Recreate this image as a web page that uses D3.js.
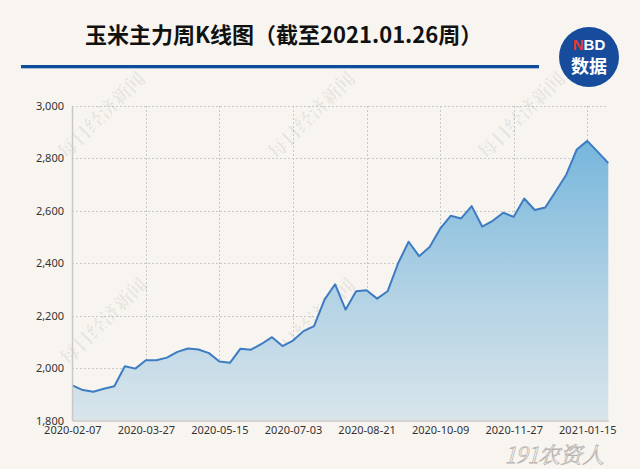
<!DOCTYPE html>
<html><head><meta charset="utf-8">
<script src="https://cdn.jsdelivr.net/npm/d3@7"></script>
<style>
html,body{margin:0;padding:0;background:#f8f5f1;}
svg{display:block;}
</style></head>
<body>
<svg id="chart" width="640" height="469"></svg>
<script>
const titleText = "玉米主力周K线图（截至2021.01.26周）";
const dates = [
"2020-02-07","2020-02-14","2020-02-21","2020-02-28","2020-03-06","2020-03-13","2020-03-20",
"2020-03-27","2020-04-03","2020-04-10","2020-04-17","2020-04-24","2020-05-01","2020-05-08",
"2020-05-15","2020-05-22","2020-05-29","2020-06-05","2020-06-12","2020-06-19","2020-06-26",
"2020-07-03","2020-07-10","2020-07-17","2020-07-24","2020-07-31","2020-08-07","2020-08-14",
"2020-08-21","2020-08-28","2020-09-04","2020-09-11","2020-09-18","2020-09-25","2020-10-02",
"2020-10-09","2020-10-16","2020-10-23","2020-10-30","2020-11-06","2020-11-13","2020-11-20",
"2020-11-27","2020-12-04","2020-12-11","2020-12-18","2020-12-25","2021-01-01","2021-01-08",
"2021-01-15","2021-01-22","2021-01-29"];
const prices = [
1934,1916,1910,1921,1931,2007,1998,
2030,2030,2040,2062,2075,2071,2057,
2025,2020,2074,2070,2092,2118,2084,
2105,2141,2160,2261,2320,2223,2293,
2297,2265,2293,2400,2482,2427,2462,
2532,2581,2571,2618,2540,2562,2593,
2577,2647,2603,2613,2675,2738,2834,
2867,2825,2782];
const xTickLabels = ["2020-02-07","2020-03-27","2020-05-15","2020-07-03","2020-08-21","2020-10-09","2020-11-27","2021-01-15"];
const yTicks = [1800,2000,2200,2400,2600,2800,3000];
const watermarkText = "每日经济新闻";

const svg = d3.select("#chart");
const W = 640, H = 469;
svg.append("rect").attr("width",W).attr("height",H).attr("fill","#f8f5f1");

const x = d3.scalePoint().domain(dates).range([72.3, 608.3]);
const y = d3.scaleLinear().domain([1800,3000]).range([420.5,106]);

// gradient
const defs = svg.append("defs");
const grad = defs.append("linearGradient").attr("id","areaGrad")
  .attr("gradientUnits","userSpaceOnUse").attr("x1",0).attr("y1",y(2870)).attr("x2",0).attr("y2",y(1800));
grad.append("stop").attr("offset","0%").attr("stop-color","#76b6dc");
grad.append("stop").attr("offset","55%").attr("stop-color","#b2d2e4");
grad.append("stop").attr("offset","100%").attr("stop-color","#d9e5eb");

// grid
const grid = svg.append("g");
grid.selectAll("line.h").data(yTicks.filter(d=>d>1800)).join("line")
  .attr("x1",72).attr("x2",608.3).attr("y1",d=>Math.round(y(d))+0.5).attr("y2",d=>Math.round(y(d))+0.5)
  .attr("stroke","#c9c9c9").attr("stroke-width",1).attr("stroke-dasharray","2,2");
grid.selectAll("line.v").data(xTickLabels.slice(1)).join("line")
  .attr("x1",d=>Math.round(x(d))+0.5).attr("x2",d=>Math.round(x(d))+0.5).attr("y1",y(3000)).attr("y2",y(1800))
  .attr("stroke","#c9c9c9").attr("stroke-width",1).attr("stroke-dasharray","2,2");

// watermarks
const wmPos = [[100,114],[310,114],[520,114],[102,320],[310,320],[522,320]];
svg.append("g").selectAll("text").data(wmPos).join("text")
  .attr("transform",d=>`translate(${d[0]},${d[1]}) rotate(-45)`)
  .attr("text-anchor","middle").attr("dominant-baseline","central")
  .attr("font-family","'Noto Serif CJK SC','Noto Sans CJK SC',serif").attr("font-weight","bold")
  .attr("font-size",19).attr("fill","#000").attr("fill-opacity",0.07)
  .text(watermarkText);

// area + line
const area = d3.area().x((d,i)=>x(dates[i])).y0(y(1800)).y1(d=>y(d));
const line = d3.line().x((d,i)=>x(dates[i])).y(d=>y(d));
svg.append("path").datum(prices).attr("d",area).attr("fill","url(#areaGrad)");
svg.append("path").datum(prices).attr("d",line).attr("fill","none")
  .attr("stroke","#3d7cc2").attr("stroke-width",2).attr("stroke-linejoin","round");

// axes
const yAxis = d3.axisLeft(y).tickValues(yTicks).tickSize(0).tickPadding(8).tickFormat(d3.format(","));
const gy = svg.append("g").attr("transform","translate(72,0)").call(yAxis);
gy.select(".domain").attr("stroke","#c8c8c8").attr("stroke-width",1.5);
gy.selectAll("text").attr("font-family","'Noto Sans',sans-serif").attr("font-size",11).attr("fill","#333");

const xAxis = d3.axisBottom(x).tickValues(xTickLabels).tickSize(0).tickPadding(6);
const gx = svg.append("g").attr("transform",`translate(0,${y(1800)})`).call(xAxis);
gx.select(".domain").attr("stroke","#c8c8c8").attr("stroke-width",1.5);
gx.selectAll("text").attr("font-family","'Noto Sans',sans-serif").attr("font-size",11).attr("fill","#333");

// title
svg.append("text").attr("x",85).attr("y",43)
  .attr("font-family","'Noto Sans CJK SC',sans-serif").attr("font-weight","bold")
  .attr("font-size",22).attr("fill","#111").text(titleText);
svg.append("rect").attr("x",21).attr("y",65).attr("width",518).attr("height",3).attr("fill","#0f4c9c");
svg.append("rect").attr("x",21).attr("y",68).attr("width",518).attr("height",1).attr("fill","#a9bfd9");

// logo
const logo = svg.append("g").attr("transform","translate(589,57)");
logo.append("circle").attr("r",30).attr("fill","#174c9c");
const nbd = logo.append("text").attr("y",-7).attr("text-anchor","middle")
  .attr("font-family","'Liberation Sans',Arial,sans-serif").attr("font-weight","bold").attr("font-size",15);
nbd.append("tspan").attr("fill","#e8362f").text("N");
nbd.append("tspan").attr("fill","#fff").text("BD");
logo.append("text").attr("y",16).attr("text-anchor","middle")
  .attr("font-family","'Noto Sans CJK SC',sans-serif").attr("font-weight","bold").attr("font-size",18)
  .attr("fill","#fff").text("数据");

// bottom-right watermark
svg.append("text").attr("x",505).attr("y",463)
  .attr("font-family","'Noto Serif CJK SC','Noto Sans CJK SC',serif").attr("font-size",22)
  .attr("fill","#ffffff").attr("stroke","#b9b4b0").attr("stroke-width",0.8).attr("font-style","italic")
  .text("191农资人");
</script>
</body></html>
